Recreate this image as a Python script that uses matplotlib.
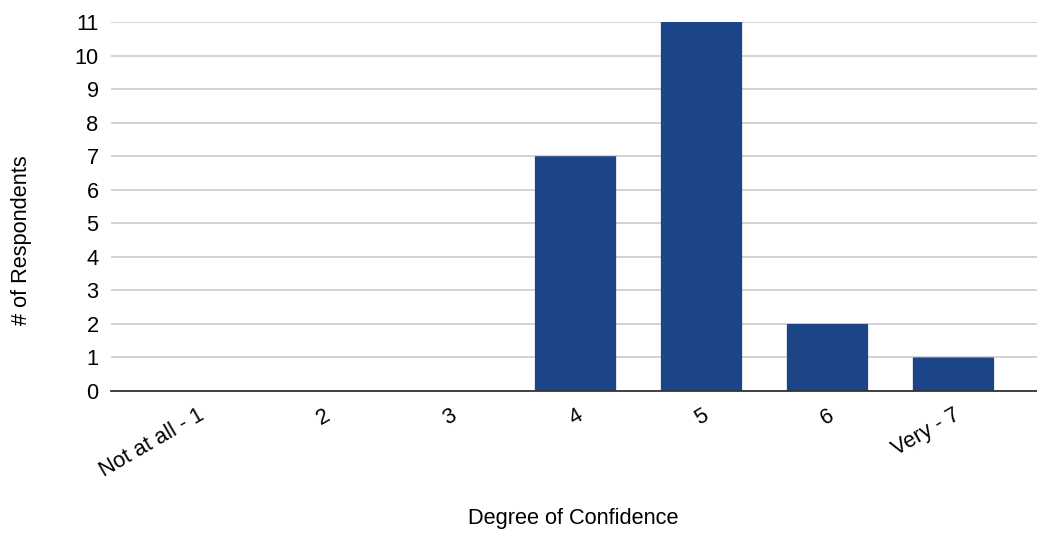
import matplotlib.pyplot as plt
from matplotlib.patches import FancyBboxPatch

plt.rcParams['font.family'] = ['Liberation Sans', 'DejaVu Sans']

categories = ["Not at all - 1", "2", "3", "4", "5", "6", "Very - 7"]
respondents = [0, 0, 0, 7, 11, 2, 1]
y_ticks = list(range(0, 12))

bar_color = "#1c4587"
grid_color = "#cccccc"
font_size = 15.7

fig = plt.figure(figsize=(10.37, 5.39), dpi=100)
ax = fig.add_axes([111 / 1037, 1 - 391 / 539, 1 - 111 / 1037, (391 - 22) / 539])

positions = list(range(len(categories)))
bar_width = 0.645
for x, v in zip(positions, respondents):
    if v <= 0:
        continue
    patch = FancyBboxPatch((x - bar_width / 2, 0), bar_width, v,
                           boxstyle="round,pad=0,rounding_size=0.03",
                           mutation_aspect=0.16,
                           facecolor=bar_color, edgecolor="none", zorder=2)
    ax.add_patch(patch)
    # square off the bottom corners
    ax.bar(x, min(v, 0.5), width=bar_width, color=bar_color, zorder=2, linewidth=0)

ax.set_xlim(-0.687, 6.663)
ax.set_ylim(0, 11)
ax.set_yticks(y_ticks)
ax.set_xticks(positions)
ax.set_xticklabels(categories, rotation=30, ha="right", rotation_mode="anchor")
ax.tick_params(axis="both", length=0, labelsize=font_size, colors="#000000")
ax.tick_params(axis="y", pad=9)
ax.tick_params(axis="x", pad=10)

ax.yaxis.grid(True, color=grid_color, linewidth=1.2, zorder=0)
ax.set_axisbelow(True)
for side in ("top", "right", "left"):
    ax.spines[side].set_visible(False)
ax.spines["bottom"].set_color("#333333")
ax.spines["bottom"].set_linewidth(1.3)
ax.spines["bottom"].set_zorder(3)

ax.set_ylabel("# of Respondents", fontsize=font_size)
ax.yaxis.set_label_coords(-(111 - 32) / (1037 - 111), (391 - 240) / (391 - 22))
ax.set_xlabel("Degree of Confidence", fontsize=font_size)
ax.xaxis.set_label_coords((573 - 111) / (1037 - 111), -(508 - 391) / (391 - 22))

fig.savefig("out.png", dpi=100, facecolor="white")
